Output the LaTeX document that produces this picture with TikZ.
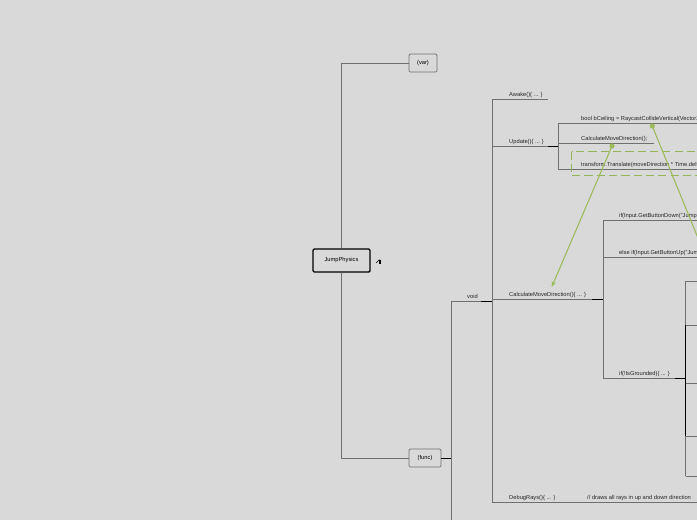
\documentclass[tikz,border=0pt]{standalone}
\usepackage{fontspec}
\setmainfont{Liberation Sans}
\usetikzlibrary{arrows.meta}
\definecolor{bggray}{RGB}{217,217,217}
\definecolor{linegray}{RGB}{112,112,112}
\definecolor{leafgreen}{RGB}{155,187,89}
\definecolor{boxgreen}{RGB}{148,180,88}
\tikzset{
  root/.style={draw=black, line width=1.1pt, fill=bggray, rounded corners=1pt,
    minimum width=1.71cm, minimum height=0.69cm, inner sep=0pt, font=\fontsize{4.9}{6}\selectfont},
  topic/.style={draw=linegray, line width=0.7pt, fill=bggray, rounded corners=1pt,
    minimum height=0.54cm, inner sep=0pt, font=\fontsize{4.9}{6}\selectfont},
  leaf/.style={anchor=base west, inner sep=0pt, text=black!85, font=\fontsize{4.9}{6}\selectfont},
  branch/.style={linegray, line width=0.5pt},
  joint/.style={black, line width=0.7pt},
  link/.style={leafgreen, line width=0.9pt, -{Stealth[length=5pt,width=4pt]}},
}
\begin{document}
\begin{tikzpicture}[x=0.03cm, y=-0.03cm]
  % background
  \fill[bggray] (0,0) rectangle (697,520);
  \useasboundingbox (0,0) rectangle (697,520);
  \clip (0,0) rectangle (697,520);

  % main topic
  \node[root] (jump) at (341.5,260.5) {JumpPhysics};
  \node[topic, minimum width=0.84cm] (var) at (423,63) {(var)};
  \node[topic, minimum width=0.96cm] (func) at (425,458) {(func)};
  \draw[branch] (var.west) -| (jump.north);
  \draw[branch] (func.west) -| (jump.south);
  % small icon
  \draw[black, line width=0.5pt] (376,263) -- (379.5,259.5);
  \fill[black] (379,260) rectangle (381,263.5);

  % void
  \node[leaf] (void) at (467,298) {void};
  \coordinate (vtop) at (451,301);
  \coordinate (vend) at (492,301);
  \draw[branch] (vtop) -- (451,520);
  \draw[branch] (vtop) -- (vend);
  \draw[joint] (func.east) -- (451,458);
  \draw[joint] (481,301) -- (vend);

  % methods
  \draw[branch] (492,99) -- (492,502);
  \node[leaf] (awake) at (509,96.5) {Awake()\{ ... \}};
  \draw[branch] (492,99) -- (548,99);
  \node[leaf] (update) at (509,143) {Update()\{ ... \}};
  \draw[branch] (492,146) -- (548,146);
  \draw[joint] (548,146) -- (558,146);
  \node[leaf] (calc) at (509,296) {CalculateMoveDirection()\{ ... \}};
  \draw[branch] (492,299) -- (592,299);
  \draw[joint] (592,299) -- (603,299);
  \node[leaf] (debug) at (509,499) {DebugRays()\{ ... \}};
  \node[leaf] (debugnote) at (587,499) {// draws all rays in up and down direction};
  \draw[branch] (492,502) -- (697,502);

  % Update body
  \draw[branch] (558,123) -- (558,169);
  \node[leaf] (ceil) at (581,120) {bool bCeiling = RaycastCollideVertical(Vector2.up);};
  \draw[branch] (558,123) -- (697,123);
  \node[leaf] (callcalc) at (581,140) {CalculateMoveDirection();};
  \draw[branch] (558,143) -- (654,143);
  \node[leaf] (move) at (581,166) {transform.Translate(moveDirection * Time.deltaTime);};
  \draw[branch] (558,169) -- (697,169);
  \draw[boxgreen, line width=0.8pt, dash pattern=on 7pt off 3.5pt] (571.5,151.5) rectangle (720,175.5);

  % CalculateMoveDirection body
  \draw[branch] (603,220) -- (603,378);
  \node[leaf] (jumpdown) at (619,217) {if(Input.GetButtonDown("Jump"))\{ ... \}};
  \draw[branch] (603,220) -- (697,220);
  \node[leaf] (jumpup) at (619,254) {else if(Input.GetButtonUp("Jump"))\{ ... \}};
  \draw[branch] (603,257) -- (697,257);
  \node[leaf] (grounded) at (619,375) {if(!IsGrounded)\{ ... \}};
  \draw[branch] (603,378) -- (675,378);
  \draw[joint] (675,378) -- (685.5,378);

  % IsGrounded body
  \draw[branch] (685.5,281) -- (685.5,476);
  \draw[joint] (685.5,325) -- (685.5,436);
  \foreach \yy in {281,325,383,436,476}
    \draw[branch] (685.5,\yy) -- (697,\yy);

  % relations
  \coordinate (calldot) at (612,146);
  \coordinate (ceildot) at (652.3,126);
  \fill[leafgreen] (calldot) circle (2.6);
  \fill[leafgreen] (ceildot) circle (2.6);
  \draw[link] (calldot) -- (551.7,287);
  \draw[link] (ceildot) -- (720,292);
\end{tikzpicture}
\end{document}
